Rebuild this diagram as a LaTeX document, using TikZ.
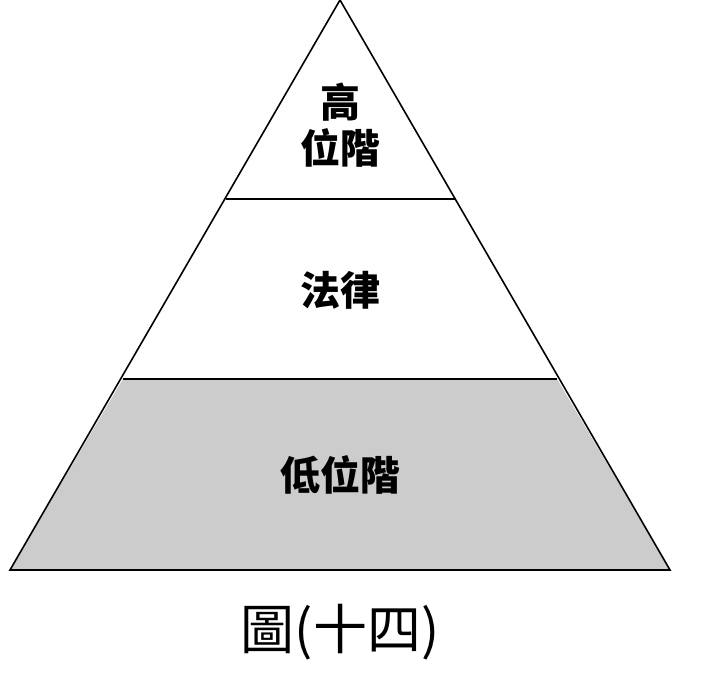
\documentclass[tikz,border=0pt]{standalone}
\usepackage{fontspec}
\newfontfamily\cjk{Noto Sans CJK TC}
\usetikzlibrary{positioning}
\tikzset{
  layer/.style={draw=black, line width=1.6pt},
  label/.style={font=\cjk\bfseries\fontsize{40}{46}\selectfont, align=center},
  caption/.style={font=\cjk\fontsize{54}{60}\selectfont},
}
\begin{document}
\begin{tikzpicture}[x=1pt, y=-1pt]
    \useasboundingbox (0,0) rectangle (704,680);
    % corners of the pyramid
    \coordinate (top)   at (340,0);
    \coordinate (bl)    at (10,570);
    \coordinate (br)    at (670,570);
    \coordinate (ml)    at (123,379);
    \coordinate (mr)    at (557,379);
    \coordinate (hl)    at (226,199);
    \coordinate (hr)    at (456,199);
    % lower layer
    \fill[black!20] (bl) -- (br) -- (mr) -- (ml) -- cycle;
    \draw[layer] (top) -- (bl) -- (br) -- cycle;
    \draw[layer] (ml) -- (mr);
    \draw[layer] (hl) -- (hr);
    % labels
    \node[label] (high) at (340,125) {高\\位階};
    \node[label] (law)  at (340,290) {法律};
    \node[label] (low)  at (340,475) {低位階};
    \node[caption] (cap) at (340,632) {圖(十四)};
\end{tikzpicture}
\end{document}
